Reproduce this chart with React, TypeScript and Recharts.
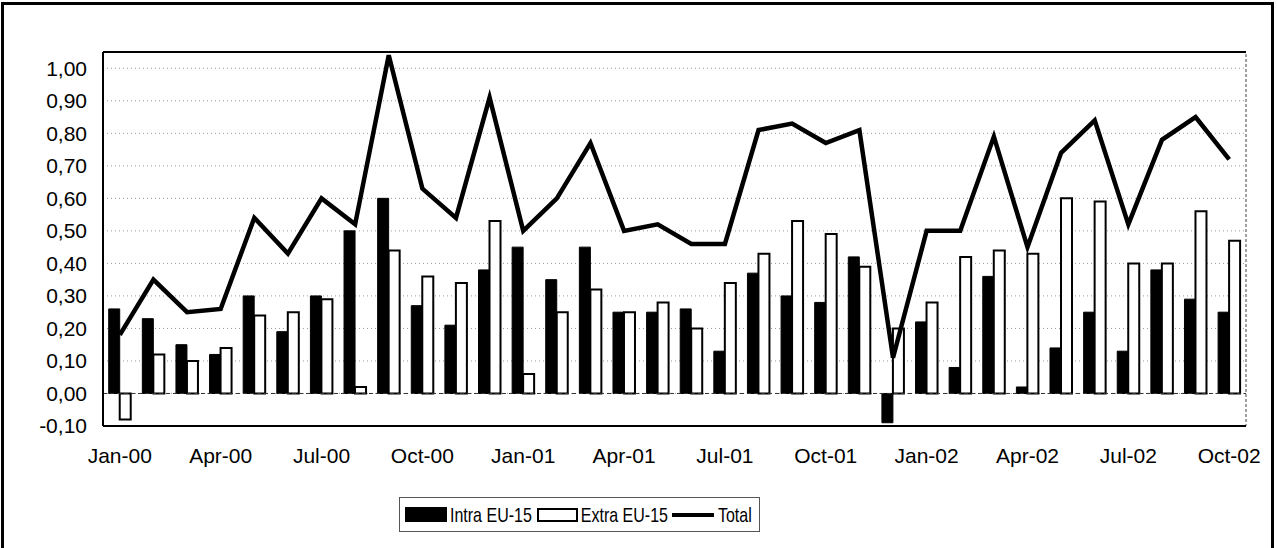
import React from 'react';
import { Bar, CartesianGrid, ComposedChart, Legend, Line, ReferenceArea, ReferenceLine, XAxis, YAxis } from 'recharts';

const months = [
  'Jan-00', 'Feb-00', 'Mar-00', 'Apr-00', 'May-00', 'Jun-00', 'Jul-00', 'Aug-00', 'Sep-00', 'Oct-00', 'Nov-00', 'Dec-00',
  'Jan-01', 'Feb-01', 'Mar-01', 'Apr-01', 'May-01', 'Jun-01', 'Jul-01', 'Aug-01', 'Sep-01', 'Oct-01', 'Nov-01', 'Dec-01',
  'Jan-02', 'Feb-02', 'Mar-02', 'Apr-02', 'May-02', 'Jun-02', 'Jul-02', 'Aug-02', 'Sep-02', 'Oct-02',
];

const intraEU = [
  0.26, 0.23, 0.15, 0.12, 0.30, 0.19, 0.30, 0.50, 0.60, 0.27, 0.21, 0.38,
  0.45, 0.35, 0.45, 0.25, 0.25, 0.26, 0.13, 0.37, 0.30, 0.28, 0.42, -0.09,
  0.22, 0.08, 0.36, 0.02, 0.14, 0.25, 0.13, 0.38, 0.29, 0.25,
];

const extraEU = [
  -0.08, 0.12, 0.10, 0.14, 0.24, 0.25, 0.29, 0.02, 0.44, 0.36, 0.34, 0.53,
  0.06, 0.25, 0.32, 0.25, 0.28, 0.20, 0.34, 0.43, 0.53, 0.49, 0.39, 0.20,
  0.28, 0.42, 0.44, 0.43, 0.60, 0.59, 0.40, 0.40, 0.56, 0.47,
];

const total = [
  0.18, 0.35, 0.25, 0.26, 0.54, 0.43, 0.60, 0.52, 1.04, 0.63, 0.54, 0.91,
  0.50, 0.60, 0.77, 0.50, 0.52, 0.46, 0.46, 0.81, 0.83, 0.77, 0.81, 0.11,
  0.50, 0.50, 0.79, 0.45, 0.74, 0.84, 0.52, 0.78, 0.85, 0.72,
];

const yTicks = [-0.1, 0, 0.1, 0.2, 0.3, 0.4, 0.5, 0.6, 0.7, 0.8, 0.9, 1.0];

const data = months.map((m, i) => ({ month: m, intra: intraEU[i], extra: extraEU[i], total: total[i] }));

const axisFont = { fontFamily: '"Liberation Sans", Arial, sans-serif', fontSize: 21, fill: '#000' };

function LegendBox() {
  // the legend text in the original is tall and narrow
  const text = {
    fontFamily: '"Liberation Sans", Arial, sans-serif', fontSize: 16, color: '#000', lineHeight: '20px',
    whiteSpace: 'nowrap' as const, display: 'inline-block', transform: 'scaleY(1.3)',
  };
  return <div style={{
    boxSizing: 'border-box', width: 361, height: 35, border: '1px solid #555',
    display: 'flex', alignItems: 'center', paddingLeft: 5, background: '#fff',
  }}>
    <span style={{ width: 42, height: 15, background: '#000', display: 'inline-block', marginRight: 3, flexShrink: 0 }} />
    <span style={text}>Intra EU-15</span>
    <span style={{ boxSizing: 'border-box', width: 41, height: 14, border: '2px solid #000', background: '#fff', display: 'inline-block', margin: '0 3px 0 5px', flexShrink: 0 }} />
    <span style={text}>Extra EU-15</span>
    <span style={{ width: 42, height: 4, background: '#000', display: 'inline-block', margin: '0 4px 0 4px', flexShrink: 0 }} />
    <span style={text}>Total</span>
  </div>
}

export default function App() {
  return <div style={{ position: 'fixed', left: 0, top: 0, width: 1277, height: 548, overflow: 'hidden', background: '#fff' }}>
    <div style={{
      position: 'absolute', left: 1, top: 2, width: 1267, height: 600,
      borderTop: '3px solid #000', borderLeft: '3px solid #000', borderRight: '3px solid #000',
    }} />
    <ComposedChart
      width={1277} height={548} data={data}
      margin={{ top: 52, right: 31, left: 0, bottom: 16 }}
      barCategoryGap="17%" barGap={0}
      style={{ position: 'absolute', left: 0, top: 0 }}
    >
      <CartesianGrid vertical={false} stroke="#999" strokeDasharray="1 3" />
      <XAxis
        dataKey="month" interval={2} height={71}
        tickLine={false} tickSize={0} tickMargin={22}
        axisLine={{ stroke: '#000', strokeWidth: 2 }}
        tick={axisFont}
      />
      <YAxis
        type="number" domain={[-0.1, 1.05]} ticks={yTicks} width={103}
        allowDataOverflow
        tickLine={false} tickSize={0} tickMargin={16}
        axisLine={{ stroke: '#000', strokeWidth: 2 }}
        tick={axisFont}
        tickFormatter={(v: number) => v.toFixed(2).replace('.', ',')}
      />
      {/* plot frame: dashed on the right, solid top */}
      <ReferenceArea x1="Jan-00" x2="Oct-02" y1={-0.1} y2={1.05} fill="none" stroke="#444" strokeWidth={1} strokeDasharray="3 2" ifOverflow="visible" />
      <ReferenceLine y={1.05} stroke="#000" strokeWidth={2} />
      <Legend verticalAlign="bottom" content={() => <LegendBox />} wrapperStyle={{ left: 399, width: 361, height: 35 }} />
      <Bar dataKey="intra" name="Intra EU-15" fill="#000" stroke="#000" strokeWidth={1} isAnimationActive={false} />
      <Bar dataKey="extra" name="Extra EU-15" fill="#fff" stroke="#000" strokeWidth={2} isAnimationActive={false} />
      <ReferenceLine y={0} stroke="#333" strokeWidth={1} strokeDasharray="4 3" />
      <Line type="linear" dataKey="total" name="Total" stroke="#000" strokeWidth={4.5} dot={false} isAnimationActive={false} />
    </ComposedChart>
  </div>
}
